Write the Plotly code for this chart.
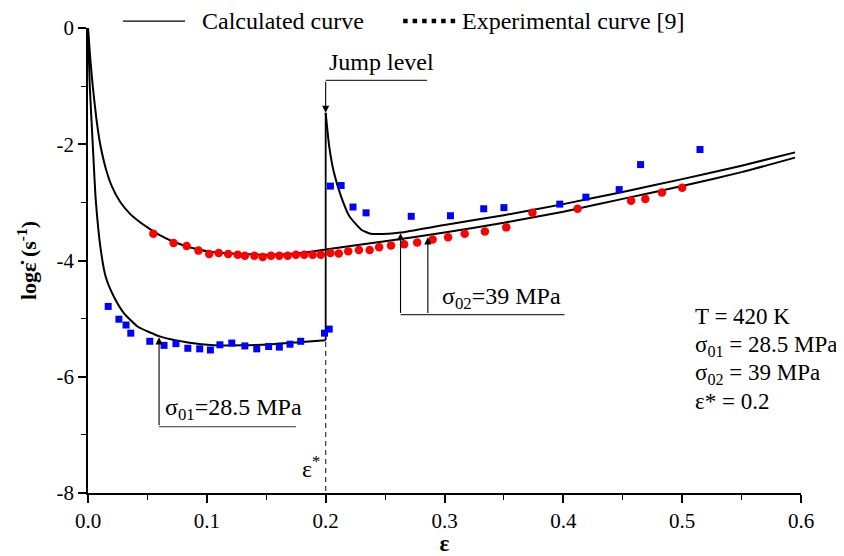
import plotly.graph_objects as go

# ---- data ----
# Calculated curve, sigma01 = 28.5 MPa (before the jump)
calc1_x = [0.0, 0.0015, 0.004, 0.0065, 0.0107, 0.0149, 0.0217, 0.030, 0.042, 0.061, 0.084, 0.106, 0.129, 0.155, 0.180, 0.200]
calc1_y = [0.0, -1.0, -2.0, -2.95, -3.81, -4.28, -4.62, -4.90, -5.14, -5.31, -5.41, -5.46, -5.46, -5.44, -5.40, -5.37]
# jump at eps* = 0.2
jump_x = [0.200, 0.200]
jump_y = [-5.37, -1.46]
# Calculated curve after the jump (sigma02 = 39 MPa)
calc1b_x = [0.200, 0.203, 0.207, 0.213, 0.220, 0.230, 0.238, 0.253, 0.263, 0.300, 0.350, 0.400, 0.450, 0.500, 0.550, 0.595]
calc1b_y = [-1.46, -2.04, -2.49, -2.90, -3.24, -3.47, -3.54, -3.54, -3.52, -3.39, -3.22, -3.03, -2.82, -2.60, -2.37, -2.14]
# Calculated curve, sigma02 = 39 MPa from the start
calc2_x = [0.0, 0.002, 0.004, 0.007, 0.010, 0.015, 0.020, 0.027, 0.035, 0.043, 0.050, 0.060, 0.070, 0.087, 0.106, 0.129, 0.150, 0.179, 0.200, 0.250, 0.300, 0.350, 0.400, 0.450, 0.500, 0.550, 0.595]
calc2_y = [0.0, -0.55, -1.0, -1.55, -1.97, -2.42, -2.72, -2.99, -3.19, -3.33, -3.43, -3.56, -3.66, -3.78, -3.86, -3.89, -3.90, -3.87, -3.81, -3.67, -3.52, -3.35, -3.16, -2.94, -2.72, -2.48, -2.23]

# Experimental (blue squares): sigma01 then jump
exp1_x = [0.017, 0.026, 0.032, 0.036, 0.052, 0.064, 0.074, 0.084, 0.094, 0.103, 0.111, 0.121, 0.132, 0.142, 0.152, 0.161, 0.170, 0.179, 0.199, 0.203,
          0.204, 0.213, 0.223, 0.234, 0.272, 0.305, 0.333, 0.350, 0.397, 0.419, 0.447, 0.465, 0.515]
exp1_y = [-4.79, -5.01, -5.11, -5.25, -5.39, -5.46, -5.43, -5.51, -5.52, -5.54, -5.45, -5.42, -5.47, -5.52, -5.48, -5.49, -5.44, -5.39, -5.25, -5.18,
          -2.72, -2.71, -3.08, -3.18, -3.24, -3.23, -3.11, -3.09, -3.03, -2.91, -2.78, -2.35, -2.09]
# Experimental (red circles): sigma02
exp2_x = [0.055, 0.072, 0.083, 0.093, 0.102, 0.110, 0.118, 0.126, 0.132, 0.140, 0.147, 0.154, 0.161, 0.168, 0.175, 0.182, 0.189, 0.196, 0.204, 0.211,
          0.219, 0.228, 0.237, 0.245, 0.255, 0.266, 0.277, 0.290, 0.303, 0.317, 0.334, 0.352, 0.374, 0.412, 0.457, 0.469, 0.483, 0.500]
exp2_y = [-3.54, -3.70, -3.75, -3.83, -3.89, -3.87, -3.89, -3.90, -3.92, -3.92, -3.94, -3.92, -3.92, -3.92, -3.90, -3.90, -3.90, -3.90, -3.87, -3.88,
          -3.84, -3.82, -3.82, -3.77, -3.74, -3.72, -3.69, -3.64, -3.60, -3.54, -3.50, -3.43, -3.18, -3.11, -2.97, -2.94, -2.83, -2.75]

x_ticks = [0.0, 0.1, 0.2, 0.3, 0.4, 0.5, 0.6]
x_tick_labels = ["0.0", "0.1", "0.2", "0.3", "0.4", "0.5", "0.6"]
y_ticks = [0, -2, -4, -6, -8]
y_tick_labels = ["0", "-2", "-4", "-6", "-8"]

FONT = "Liberation Serif"

fig = go.Figure()
line_style = dict(color="black", width=2)
fig.add_trace(go.Scatter(x=calc1_x, y=calc1_y, mode="lines", line=dict(shape="spline", smoothing=0.5, **line_style), showlegend=False))
fig.add_trace(go.Scatter(x=jump_x, y=jump_y, mode="lines", line=dict(color="black", width=1.8), showlegend=False))
fig.add_trace(go.Scatter(x=calc1b_x, y=calc1b_y, mode="lines", line=dict(shape="spline", smoothing=0.5, **line_style), showlegend=False))
fig.add_trace(go.Scatter(x=calc2_x, y=calc2_y, mode="lines", line=dict(shape="spline", smoothing=0.5, **line_style), showlegend=False))
fig.add_trace(go.Scatter(x=exp1_x, y=exp1_y, mode="markers", marker=dict(symbol="square", size=7, color="#0000ff"), showlegend=False))
fig.add_trace(go.Scatter(x=exp2_x, y=exp2_y, mode="markers", marker=dict(symbol="circle", size=8.5, color="#ff0000"), showlegend=False))

shapes = []
# eps* dashed line
shapes.append(dict(type="line", xref="x", yref="y", x0=0.2, x1=0.2, y0=-5.4, y1=-8, line=dict(color="#444", width=1.3, dash="5px,4px")))
# Jump level bracket
shapes.append(dict(type="line", xref="x", yref="y", x0=0.2, x1=0.2854, y0=-0.90, y1=-0.90, line=dict(color="#333", width=1.2)))
# sigma02 bracket
shapes.append(dict(type="line", xref="x", yref="y", x0=0.263, x1=0.401, y0=-4.93, y1=-4.93, line=dict(color="#333", width=1.2)))
# sigma01 bracket
shapes.append(dict(type="line", xref="x", yref="y", x0=0.0598, x1=0.175, y0=-6.86, y1=-6.86, line=dict(color="#333", width=1.2)))
# legend samples
shapes.append(dict(type="line", xref="paper", yref="paper", x0=0.049, x1=0.136, y0=1.015, y1=1.015, line=dict(color="black", width=1.2)))
shapes.append(dict(type="line", xref="paper", yref="paper", x0=0.442, x1=0.517, y0=1.015, y1=1.015, line=dict(color="black", width=4.5, dash="4.5px,5px")))

ann = []
def arrow(x, y0, y1):
    ann.append(dict(x=x, y=y1, ax=x, ay=y0, xref="x", yref="y", axref="x", ayref="y", text="", showarrow=True,
                    arrowhead=2, arrowsize=1.3, arrowwidth=1.1, arrowcolor="black"))
arrow(0.2, -0.90, -1.46)
arrow(0.263, -4.93, -3.53)
arrow(0.286, -4.93, -3.60)
arrow(0.0598, -6.86, -5.32)

def text(x, y, s, xref="x", yref="y", xanchor="left", size=24):
    ann.append(dict(x=x, y=y, xref=xref, yref=yref, text=s, showarrow=False, xanchor=xanchor, yanchor="middle",
                    font=dict(family=FONT, size=size, color="black")))
text(0.201, -0.58, "Jump level")
text(0.296, -4.64, "σ<sub>02</sub>=39 MPa")
text(0.063, -6.55, "σ<sub>01</sub>=28.5 MPa")
text(0.197, -7.55, "ε<sup>*</sup>", xanchor="right")
text(0.509, -4.97, "T = 420 K", size=23)
text(0.509, -5.47, "σ<sub>01</sub> = 28.5 MPa", size=23)
text(0.509, -5.96, "σ<sub>02</sub> = 39 MPa", size=23)
text(0.509, -6.43, "ε* = 0.2", size=23)
text(0.157, 1.015, "Calculated curve", xref="paper", yref="paper")
text(0.522, 1.015, "Experimental curve [9]", xref="paper", yref="paper")

axis_common = dict(showline=True, linecolor="black", linewidth=1.6, ticks="outside", ticklen=8, tickwidth=1.5,
                   tickcolor="black", showgrid=False, zeroline=False, mirror=False, automargin=False,
                   tickfont=dict(family=FONT, size=21, color="black"))
fig.update_xaxes(range=[0, 0.6], tickvals=x_ticks, ticktext=x_tick_labels,
                 minor=dict(dtick=0.05, ticklen=5, tickwidth=1.2, ticks="outside", tickcolor="black", showgrid=False),
                 title=dict(text="<b>ε</b>", font=dict(family=FONT, size=23, color="black"), standoff=6), **axis_common)
fig.update_yaxes(range=[-8, 0], tickvals=y_ticks, ticktext=y_tick_labels,
                 minor=dict(dtick=1, ticklen=5, tickwidth=1.2, ticks="outside", tickcolor="black", showgrid=False),
                 title=dict(text="<b>logε̇ (s<sup>-1</sup>)</b>", font=dict(family=FONT, size=22, color="black"), standoff=14),
                 **axis_common)

# the page body has an 8px margin, so the figure is 8px smaller than the window
fig.update_layout(width=836, height=548, margin=dict(l=80, r=43, t=20, b=63, pad=0),
                  font=dict(family=FONT, color="black"),
                  plot_bgcolor="white", paper_bgcolor="white", showlegend=False,
                  shapes=shapes, annotations=ann)
fig.write_html("out.html")
